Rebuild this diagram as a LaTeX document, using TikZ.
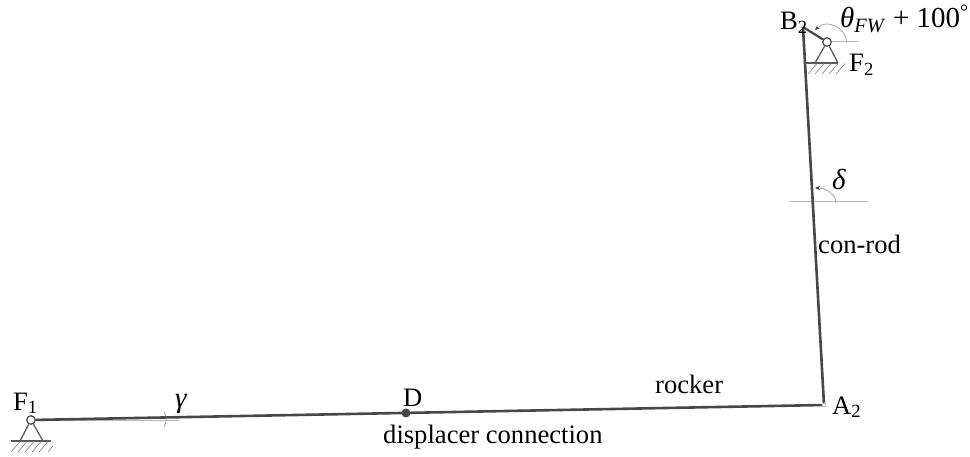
\documentclass[tikz,border=0pt]{standalone}
\usepackage{fontspec}
\setmainfont{Liberation Serif}
\usetikzlibrary{arrows.meta}
\begin{document}
\begin{tikzpicture}[x=1pt,y=-1pt,
  rod/.style={line width=2.6pt,draw=black!72},
  thinrod/.style={line width=2.2pt,draw=black!72},
  refl/.style={line width=1pt,draw=black!28},
  arcl/.style={line width=0.7pt,draw=black!40,-{Stealth[length=5pt,width=4pt,black!75]}},
  tri/.style={line width=1.3pt,draw=black!65},
  hatchl/.style={line width=0.6pt,draw=black!50},
  pin/.style={circle,draw=black!72,fill=white,line width=1.2pt,inner sep=0pt,minimum size=8.5pt},
  smallpin/.style={circle,draw=black!45,fill=white,line width=0.5pt,inner sep=0pt,minimum size=4pt},
  dot/.style={circle,fill=black!72,inner sep=0pt,minimum size=9pt},
  lab/.style={font=\fontsize{26.6}{30}\selectfont,inner sep=0pt,text=black},
  mathlab/.style={font=\fontsize{29}{32}\selectfont,inner sep=0pt,text=black}]
\useasboundingbox (0,0) rectangle (970,457);
% joints
\coordinate (r1) at (179,420);
\coordinate (r2l) at (790,202);
\coordinate (r2r) at (868,202);
\coordinate (r3) at (858,42);
\coordinate (B2) at (803,27);
\node[pin] (F1) at (31,420) {};
\node[pin] (F2) at (827,42) {};
\node[smallpin] (A2) at (824,405) {};
% reference lines
\draw[refl] (F1) -- (r1);
\draw[refl] (r2l) -- (r2r);
\draw[refl] (F2) -- (r3);
% rods
\draw[rod] (F1) -- (A2);
\draw[rod] (B2) -- (A2);
\draw[thinrod] (B2) -- (F2);
\node[dot] (D) at (406,413) {};
% supports
\coordinate (F2a) at (815,63);
\coordinate (F2b) at (838,63);
\coordinate (F2g) at (805,63);
\draw[tri] (F2a) -- (F2) -- (F2b);
\draw[tri] (F2g) -- (F2b);
\foreach \x in {817,824,831,838,845}
  \draw[hatchl] (\x,63.5) -- (\x-9,74);
\coordinate (F1a) at (20,441);
\coordinate (F1b) at (43,441);
\coordinate (F1g) at (11,441);
\coordinate (F1h) at (51,441);
\draw[tri] (F1a) -- (F1) -- (F1b);
\draw[tri] (F1g) -- (F1h);
\foreach \x in {20,27,34,41,48}
  \draw[hatchl] (\x,441.5) -- (\x-9,452);
\draw[hatchl] (53,446) -- (48,452);
% angle arcs
\draw[arcl] (847,42) .. controls (845,28) and (828,18) .. (815,30);
\draw[arcl] (836,202) .. controls (835,194) and (826,188) .. (815,188);
\draw[line width=0.5pt,draw=black!50] (164,412) .. controls (167,417) and (167,422) .. (164,427);
% labels
\node[lab,anchor=base west] (lF1) at (13,410) {F\textsubscript{1}};
\node[lab,anchor=base west] (lF2) at (849,72) {F\textsubscript{2}};
\node[lab,anchor=base west] (lB2) at (780,30) {B\textsubscript{2}};
\node[lab,anchor=base west] (lA2) at (832,414) {A\textsubscript{2}};
\node[lab,anchor=base west] (lD) at (403,406) {D};
\node[lab,anchor=base west] (lrk) at (655,393) {rocker};
\node[lab,anchor=base west] (ldc) at (383,443) {displacer connection};
\node[lab,anchor=base west] (lcr) at (818,254) {con-rod};
\node[mathlab,anchor=base west] (lth) at (840,28) {\textit{θ}\textsubscript{\textit{FW}} + 100\textsuperscript{°}};
\node[mathlab,anchor=base west] (lde) at (832,190) {\textit{δ}};
\node[mathlab,anchor=base west] (lga) at (175,407) {\textit{γ}};
\end{tikzpicture}
\end{document}
